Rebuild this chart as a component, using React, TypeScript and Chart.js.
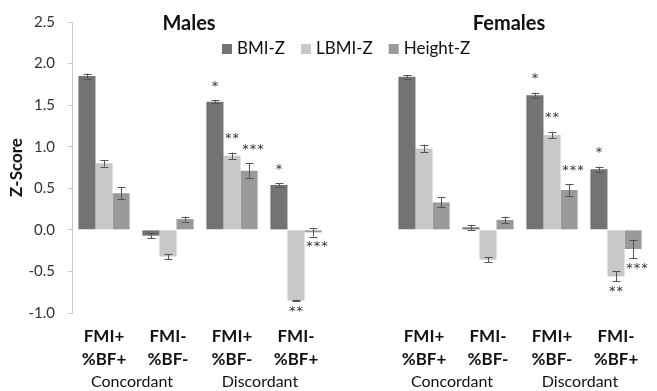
import React, { useEffect, useRef } from "react";
import { Chart, registerables } from "chart.js";
Chart.register(...registerables);

// ---- Data ----
const categoryLines: string[][] = [
  ["FMI+", "%BF+"],
  ["FMI-", "%BF-"],
  ["FMI+", "%BF-"],
  ["FMI-", "%BF+"],
];
const groupLabels = ["Concordant", "Discordant"];
const panelTitles = ["Males", "Females"];
const seriesNames = ["BMI-Z", "LBMI-Z", "Height-Z"];
const seriesColors = ["#737373", "#c8c8c8", "#9a9a9a"];

const bmiMales = [1.85, -0.07, 1.54, 0.54];
const bmiMalesErr = [0.03, 0.03, 0.02, 0.02];
const lbmiMales = [0.8, -0.32, 0.89, -0.85];
const lbmiMalesErr = [0.04, 0.03, 0.04, 0.01];
const heightMales = [0.44, 0.13, 0.71, -0.03];
const heightMalesErr = [0.07, 0.03, 0.09, 0.05];

const bmiFemales = [1.84, 0.03, 1.62, 0.73];
const bmiFemalesErr = [0.02, 0.03, 0.03, 0.03];
const lbmiFemales = [0.98, -0.36, 1.14, -0.56];
const lbmiFemalesErr = [0.045, 0.03, 0.04, 0.06];
const heightFemales = [0.33, 0.12, 0.48, -0.23];
const heightFemalesErr = [0.06, 0.04, 0.07, 0.11];

const bmiSig = ["", "", "*", "*"];
const lbmiSig = ["", "", "**", "**"];
const heightSig = ["", "", "***", "***"];

const yMin = -1.0;
const yMax = 2.5;
const yStep = 0.5;

const FONT = "Lato";

// combined with an empty gap category between the two panels
const join = (m: any[], f: any[]) => [...m, null, ...f];
const labels = join(
  categoryLines.map((l) => "M " + l.join(" ")),
  categoryLines.map((l) => "F " + l.join(" "))
);
const values = [
  join(bmiMales, bmiFemales),
  join(lbmiMales, lbmiFemales),
  join(heightMales, heightFemales),
];
const errors = [
  join(bmiMalesErr, bmiFemalesErr),
  join(lbmiMalesErr, lbmiFemalesErr),
  join(heightMalesErr, heightFemalesErr),
];
const sigs = [join(bmiSig, bmiSig), join(lbmiSig, lbmiSig), join(heightSig, heightSig)];

const overlay = {
  id: "overlay",
  afterDatasetsDraw(chart: any) {
    const ctx = chart.ctx;
    const y = chart.scales.y;
    ctx.save();
    // error bars
    ctx.strokeStyle = "#555555";
    ctx.lineWidth = 1;
    values.forEach((vals, di) => {
      const meta = chart.getDatasetMeta(di);
      vals.forEach((v: any, i: number) => {
        if (v === null) return;
        const e = errors[di][i];
        const x = Math.round(meta.data[i].x) + 0.5;
        const y1 = y.getPixelForValue(v + e);
        const y2 = y.getPixelForValue(v - e);
        ctx.beginPath();
        ctx.moveTo(x, y1);
        ctx.lineTo(x, y2);
        ctx.moveTo(x - 4, Math.round(y1) + 0.5);
        ctx.lineTo(x + 4, Math.round(y1) + 0.5);
        ctx.moveTo(x - 4, Math.round(y2) + 0.5);
        ctx.lineTo(x + 4, Math.round(y2) + 0.5);
        ctx.stroke();
      });
    });
    // significance stars
    ctx.fillStyle = "#333333";
    ctx.font = `13px "DejaVu Sans"`;
    (ctx as any).letterSpacing = "1px";
    ctx.textAlign = "center";
    ctx.textBaseline = "middle";
    sigs.forEach((s, di) => {
      const meta = chart.getDatasetMeta(di);
      s.forEach((txt: any, i: number) => {
        if (!txt) return;
        const v = values[di][i];
        const e = errors[di][i];
        const x = meta.data[i].x + (txt.length === 3 ? 4 : 0) + 0.5;
        if (v >= 0) {
          ctx.fillText(txt, x, y.getPixelForValue(v + e) - 14);
        } else {
          ctx.fillText(txt, x, y.getPixelForValue(v - e) + 10);
        }
      });
    });
    (ctx as any).letterSpacing = "0px";
    ctx.restore();
  },
  afterDraw(chart: any) {
    const ctx = chart.ctx;
    const xs = chart.scales.x;
    const area = chart.chartArea;
    ctx.save();
    ctx.fillStyle = "#111111";
    ctx.textAlign = "center";
    ctx.textBaseline = "middle";
    // panel titles
    ctx.font = `bold 20px ${FONT}`;
    panelTitles.forEach((t, p) => {
      const c = xs.getPixelForValue(1.5 + p * 5) - 11;
      ctx.fillText(t, c, 24);
    });
    // category labels
    [0, 5].forEach((off) => {
      categoryLines.forEach((lines, i) => {
        const cx = xs.getPixelForValue(off + i);
        ctx.font = `bold 17px ${FONT}`;
        ctx.fillText(lines[0], cx, 337);
        ctx.fillText(lines[1], cx, 360);
      });
      groupLabels.forEach((g, gi) => {
        const cx = xs.getPixelForValue(off + gi * 2 + 0.5) - 4;
        ctx.font = `16px ${FONT}`;
        ctx.fillText(g, cx, 382);
      });
    });
    // y title
    ctx.save();
    ctx.translate(17, (area.top + area.bottom) / 2);
    ctx.rotate(-Math.PI / 2);
    ctx.font = `bold 17px ${FONT}`;
    ctx.fillText("Z-Score", 0, 0);
    ctx.restore();
    // legend
    ctx.font = `17px ${FONT}`;
    ctx.textAlign = "left";
    let lx = 222;
    const ly = 49;
    seriesNames.forEach((n, i) => {
      ctx.fillStyle = seriesColors[i];
      ctx.fillRect(lx, ly - 5, 10, 10);
      ctx.fillStyle = "#111111";
      ctx.fillText(n, lx + 15, ly);
      lx += 15 + ctx.measureText(n).width + 16;
    });
    ctx.restore();
  },
};

export default function App() {
  const ref = useRef<HTMLCanvasElement>(null);
  useEffect(() => {
    if (!ref.current) return;
    const chart = new Chart(ref.current, {
      type: "bar",
      data: {
        labels,
        datasets: values.map((v, i) => ({
          label: seriesNames[i],
          data: v,
          backgroundColor: seriesColors[i],
          borderWidth: 0,
          categoryPercentage: 0.8,
          barPercentage: 1.0,
        })),
      },
      options: {
        animation: false,
        responsive: false,
        maintainAspectRatio: false,
        layout: { padding: { left: 0, top: 15, right: 9, bottom: 0 } },
        plugins: { legend: { display: false }, tooltip: { enabled: false }, title: { display: false } },
        scales: {
          x: {
            ticks: { display: false },
            grid: { display: false },
            border: { display: false },
            afterFit: (s: any) => {
              s.height = 78;
            },
          },
          y: {
            min: yMin,
            max: yMax,
            ticks: {
              stepSize: yStep,
              padding: 13,
              color: "#333333",
              font: { family: FONT, size: 15 },
              callback: (v: any) => Number(v).toFixed(1),
            },
            grid: { drawOnChartArea: false, drawTicks: true, tickLength: 4, color: "#c8c8c8" },
            border: { color: "#c8c8c8" },
            afterFit: (s: any) => {
              s.width = 72;
            },
          },
        },
      },
      plugins: [overlay],
    });
    return () => chart.destroy();
  }, []);
  return (
    <div style={{ position: "fixed", left: 0, top: 0, width: 657, height: 391, background: "#fff" }}>
      <canvas ref={ref} width={657} height={391} />
    </div>
  );
}
